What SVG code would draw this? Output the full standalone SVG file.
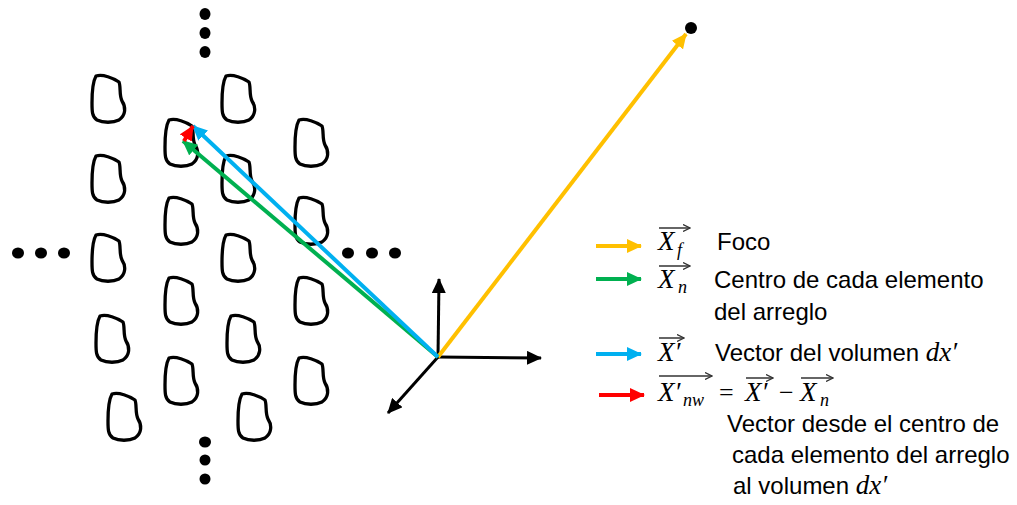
<svg xmlns="http://www.w3.org/2000/svg" xmlns:xlink="http://www.w3.org/1999/xlink" width="1017" height="505" viewBox="0 0 1017 505">
<style>
.blob{fill:none;stroke:#000;stroke-width:3.3;stroke-linejoin:round}
.dot{fill:#000}
.ax{stroke:#000;stroke-width:3;fill:none}
.vec{stroke-width:4;fill:none}
.txt{font-family:"Liberation Sans",Arial,sans-serif;font-size:24px;fill:#000}
.math{font-family:"Liberation Serif","Times New Roman",serif;font-style:italic;font-size:27px;fill:#000}
.sub{font-family:"Liberation Serif","Times New Roman",serif;font-style:italic;font-size:18px;fill:#000}
.mop{font-family:"Liberation Serif","Times New Roman",serif;font-size:26px;fill:#000}
.ov{stroke:#333;stroke-width:1.5;fill:none}
</style>
<defs>
<path id="blobshape" d="M5,1 C12,-1 22,3 28,7 C30,12 28,20 31,26 C35,32 35,40 28,45 C22,48 12,48 6,45 C1,42 1,36 1,28 C1,20 1,8 5,1 Z"/>
<marker id="ah-k" markerUnits="userSpaceOnUse" markerWidth="16" markerHeight="14" refX="14" refY="7" orient="auto"><path d="M0,0 L15,7 L0,14 Z" fill="#000"/></marker>
<marker id="ah-o" markerUnits="userSpaceOnUse" markerWidth="16" markerHeight="14" refX="14" refY="7" orient="auto"><path d="M0,0 L15,7 L0,14 Z" fill="#FFC000"/></marker>
<marker id="ah-g" markerUnits="userSpaceOnUse" markerWidth="16" markerHeight="14" refX="14" refY="7" orient="auto"><path d="M0,0 L15,7 L0,14 Z" fill="#00B050"/></marker>
<marker id="ah-b" markerUnits="userSpaceOnUse" markerWidth="16" markerHeight="14" refX="14" refY="7" orient="auto"><path d="M0,0 L15,7 L0,14 Z" fill="#00B0F0"/></marker>
<marker id="ah-r" markerUnits="userSpaceOnUse" markerWidth="16" markerHeight="14" refX="14" refY="7" orient="auto"><path d="M0,0 L15,7 L0,14 Z" fill="#FF0000"/></marker>
<marker id="ah-ov" markerUnits="userSpaceOnUse" markerWidth="8" markerHeight="8" refX="7" refY="4" orient="auto"><path d="M0,0.5 L7,4 L0,7.5" fill="none" stroke="#333" stroke-width="1.3"/></marker>
</defs>
<rect width="1017" height="505" fill="#fff"/>

<g id="array-elements">
<g id="el-1-1"><use xlink:href="#blobshape" class="blob" transform="translate(91,75)"/></g>
<g id="el-1-2"><use xlink:href="#blobshape" class="blob" transform="translate(91,155)"/></g>
<g id="el-1-3"><use xlink:href="#blobshape" class="blob" transform="translate(91,234)"/></g>
<g id="el-1-4"><use xlink:href="#blobshape" class="blob" transform="translate(95,315)"/></g>
<g id="el-1-5"><use xlink:href="#blobshape" class="blob" transform="translate(107,393)"/></g>
<g id="el-2-1"><use xlink:href="#blobshape" class="blob" transform="translate(164,119)"/></g>
<g id="el-2-2"><use xlink:href="#blobshape" class="blob" transform="translate(164,197)"/></g>
<g id="el-2-3"><use xlink:href="#blobshape" class="blob" transform="translate(164,277)"/></g>
<g id="el-2-4"><use xlink:href="#blobshape" class="blob" transform="translate(164,357)"/></g>
<g id="el-3-1"><use xlink:href="#blobshape" class="blob" transform="translate(221,75)"/></g>
<g id="el-3-2"><use xlink:href="#blobshape" class="blob" transform="translate(221,155)"/></g>
<g id="el-3-3"><use xlink:href="#blobshape" class="blob" transform="translate(221,234)"/></g>
<g id="el-3-4"><use xlink:href="#blobshape" class="blob" transform="translate(226,315)"/></g>
<g id="el-3-5"><use xlink:href="#blobshape" class="blob" transform="translate(237,393)"/></g>
<g id="el-4-1"><use xlink:href="#blobshape" class="blob" transform="translate(294,119)"/></g>
<g id="el-4-2"><use xlink:href="#blobshape" class="blob" transform="translate(294,197)"/></g>
<g id="el-4-3"><use xlink:href="#blobshape" class="blob" transform="translate(294,277)"/></g>
<g id="el-4-4"><use xlink:href="#blobshape" class="blob" transform="translate(294,357)"/></g>
</g>

<g id="ellipsis-dots">
<ellipse class="dot" cx="205" cy="14" rx="5.5" ry="6"/>
<ellipse class="dot" cx="205" cy="33" rx="5.5" ry="6"/>
<ellipse class="dot" cx="205" cy="52" rx="5.5" ry="6"/>
<ellipse class="dot" cx="205" cy="442" rx="6" ry="5.5"/>
<ellipse class="dot" cx="205" cy="460" rx="5.5" ry="5.5"/>
<ellipse class="dot" cx="205" cy="479" rx="5.5" ry="5.5"/>
<ellipse class="dot" cx="18" cy="253" rx="6" ry="5.5"/>
<ellipse class="dot" cx="41" cy="253" rx="6" ry="5.5"/>
<ellipse class="dot" cx="64" cy="253" rx="6" ry="5.5"/>
<ellipse class="dot" cx="348" cy="253" rx="6" ry="5.5"/>
<ellipse class="dot" cx="372" cy="253" rx="6" ry="5.5"/>
<ellipse class="dot" cx="395" cy="253" rx="6" ry="5.5"/>
</g>

<g id="focus"><circle class="dot" cx="691" cy="28" r="6"/></g>

<g id="connectors">
<line class="ax" x1="438" y1="357" x2="439" y2="279" marker-end="url(#ah-k)"/>
<line class="ax" x1="438" y1="357" x2="541" y2="358" marker-end="url(#ah-k)"/>
<line class="ax" x1="438" y1="357" x2="388" y2="413" marker-end="url(#ah-k)"/>
<line class="vec" stroke="#FFC000" x1="438" y1="357" x2="686" y2="34" marker-end="url(#ah-o)"/>
<line class="vec" stroke="#00B050" x1="438" y1="357" x2="183" y2="141" marker-end="url(#ah-g)"/>
<line class="vec" stroke="#00B0F0" x1="438" y1="357" x2="193" y2="126" marker-end="url(#ah-b)"/>
<line class="vec" stroke="#FF0000" stroke-width="3.5" x1="184" y1="141" x2="193" y2="126" marker-end="url(#ah-r)"/>
</g>

<g id="legend">
<line class="vec" stroke="#FFC000" x1="596" y1="246" x2="641" y2="246" marker-end="url(#ah-o)"/>
<line class="vec" stroke="#00B050" x1="596" y1="279" x2="641" y2="279" marker-end="url(#ah-g)"/>
<line class="vec" stroke="#00B0F0" x1="596" y1="354" x2="641" y2="354" marker-end="url(#ah-b)"/>
<line class="vec" stroke="#FF0000" x1="599" y1="395" x2="644" y2="395" marker-end="url(#ah-r)"/>

<text class="math" x="658" y="250">X</text><text class="sub" x="677" y="256">f</text>
<line class="ov" x1="659" y1="228" x2="690" y2="228" marker-end="url(#ah-ov)"/>
<text class="txt" x="717" y="250">Foco</text>

<text class="math" x="658" y="288">X</text><text class="sub" x="678" y="293">n</text>
<line class="ov" x1="659" y1="266" x2="690" y2="266" marker-end="url(#ah-ov)"/>
<text class="txt" x="714" y="288">Centro de cada elemento</text>
<text class="txt" x="714" y="320">del arreglo</text>

<text class="math" x="658" y="361">X′</text>
<line class="ov" x1="659" y1="338" x2="684" y2="338" marker-end="url(#ah-ov)"/>
<text class="txt" x="715" y="361">Vector del volumen <tspan class="math">dx′</tspan></text>

<text class="math" x="658" y="401">X′</text><text class="sub" x="683" y="406">nw</text>
<line class="ov" x1="659" y1="376" x2="712" y2="376" marker-end="url(#ah-ov)"/>
<text class="mop" x="719" y="401">=</text>
<text class="math" x="745" y="401">X′</text>
<line class="ov" x1="746" y1="378" x2="773" y2="378" marker-end="url(#ah-ov)"/>
<text class="mop" x="779" y="401">−</text>
<text class="math" x="800" y="401">X</text><text class="sub" x="820" y="406">n</text>
<line class="ov" x1="801" y1="378" x2="833" y2="378" marker-end="url(#ah-ov)"/>

<text class="txt" x="727" y="432">Vector desde el centro de</text>
<text class="txt" x="732" y="463">cada elemento del arreglo</text>
<text class="txt" x="733" y="494">al volumen <tspan class="math">dx′</tspan></text>
</g>
</svg>
